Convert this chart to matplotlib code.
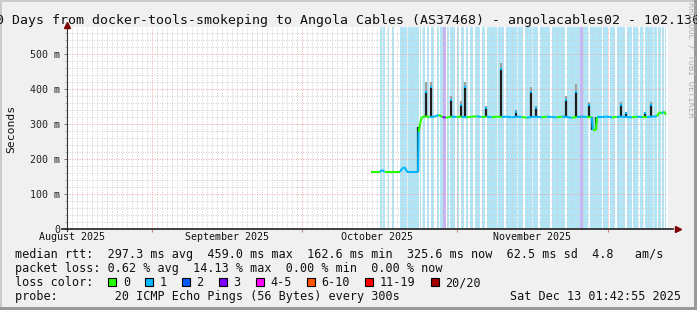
import datetime as dt
import matplotlib
matplotlib.use("Agg")
import matplotlib.pyplot as plt
import matplotlib.dates as mdates
import matplotlib.transforms as mtransforms
from matplotlib.collections import LineCollection
from matplotlib.patches import Rectangle
from matplotlib.ticker import FixedLocator, MultipleLocator

# ---- chart data (time as days since the left edge of the graph) ----
start = dt.datetime(2025, 8, 15, 1, 42, 55)
span_days = 120

title = "120 Days from docker-tools-smokeping to Angola Cables (AS37468) - angolacables02 - 102.130"

month_labels = ["August 2025", "September 2025", "October 2025", "November 2025"]
month_mid = [dt.datetime(2025, 8, 16), dt.datetime(2025, 9, 16),
             dt.datetime(2025, 10, 16), dt.datetime(2025, 11, 16)]

y_ticks = [0, 0.1, 0.2, 0.3, 0.4, 0.5]
y_ticklabels = ["0", "100 m", "200 m", "300 m", "400 m", "500 m"]

# median rtt (seconds) and loss count for the segment that starts at each point
med_day = [60.6, 62.5, 62.9, 63.4, 66.5, 66.9, 67.4, 67.9, 70.1, 70.2, 70.8,
           71.6, 72.4, 73.4, 74.2, 75.0, 75.6, 76.8, 77.8, 78.8, 79.8, 80.8,
           81.8, 82.8, 83.8, 84.8, 85.8, 86.8, 87.8, 88.8, 89.8, 90.8, 91.8,
           92.8, 93.8, 94.8, 95.8, 96.8, 97.8, 98.8, 99.8, 100.8, 101.8, 102.8,
           103.8, 104.8, 105.0, 105.6, 105.8, 106.8, 107.8, 108.8, 109.8, 110.8,
           111.8, 112.8, 113.8, 114.8, 115.8, 116.8, 117.8, 118.3, 118.8, 119.2,
           119.6]
med_val = [0.163, 0.163, 0.168, 0.163, 0.163, 0.172, 0.176, 0.163, 0.163, 0.278, 0.319,
           0.322, 0.320, 0.321, 0.326, 0.320, 0.318, 0.321, 0.320, 0.321, 0.319, 0.321,
           0.322, 0.320, 0.321, 0.319, 0.321, 0.320, 0.321, 0.319, 0.321, 0.320, 0.318,
           0.320, 0.321, 0.319, 0.321, 0.320, 0.319, 0.321, 0.320, 0.318, 0.320, 0.321,
           0.320, 0.319, 0.282, 0.282, 0.320, 0.320, 0.321, 0.319, 0.320, 0.321,
           0.320, 0.319, 0.321, 0.320, 0.320, 0.321, 0.322, 0.334, 0.330, 0.336,
           0.326]
med_loss = [0, 1, 1, 0, 1, 1, 1, 1, 1, 0, 0,
            0, 1, 1, 0, 3, 0, 1, 0, 1, 0, 0,
            1, 0, 1, 0, 0, 1, 1, 1, 1, 0, 1,
            1, 1, 0, 1, 1, 0, 1, 1, 0, 1, 1,
            0, 1, 0, 0, 1, 1, 1, 0, 1, 1,
            1, 0, 1, 0, 1, 1, 0, 0, 1, 0,
            0]

# dark smoke columns: day, low, high (seconds)
smoke_day = [70.15, 71.7, 72.6, 76.7, 78.6, 79.5, 83.7, 86.7, 89.7, 92.7, 93.6,
             99.6, 101.6, 104.2, 104.9, 105.7, 110.6, 111.6, 115.4, 116.6]
smoke_lo = [0.163, 0.320, 0.320, 0.320, 0.320, 0.320, 0.320, 0.320, 0.320, 0.320, 0.320,
            0.320, 0.320, 0.320, 0.282, 0.282, 0.320, 0.320, 0.320, 0.320]
smoke_hi = [0.290, 0.392, 0.407, 0.368, 0.354, 0.407, 0.345, 0.459, 0.335, 0.392, 0.345,
            0.368, 0.392, 0.354, 0.320, 0.320, 0.354, 0.330, 0.330, 0.354]
# light smoke tips above the columns
tip_hi = [0.290, 0.421, 0.421, 0.380, 0.365, 0.420, 0.352, 0.475, 0.340, 0.405, 0.352,
          0.380, 0.415, 0.362, 0.320, 0.320, 0.362, 0.335, 0.335, 0.362]

# light background bands (days)
band_start = [62.50, 63.16, 64.16, 64.84, 66.49, 68.03, 70.49, 71.03, 71.83, 72.62,
              73.82, 74.48, 75.82, 76.48, 77.82, 78.61, 79.67, 80.47, 81.47, 82.81,
              83.93, 86.12, 87.66, 90.12, 91.45, 93.11, 94.45, 96.79, 99.78, 103.09,
              104.43, 107.09, 108.43, 109.76, 111.76, 113.08, 114.42, 115.42, 117.21,
              118.07, 118.75, 119.41]
band_end = [62.90, 63.56, 64.36, 65.30, 67.83, 70.23, 70.75, 71.55, 72.34, 73.28,
            74.34, 75.14, 76.28, 77.48, 78.33, 79.27, 80.13, 81.13, 82.47, 83.47,
            85.80, 87.26, 89.80, 91.11, 92.79, 94.11, 96.45, 99.44, 102.44, 104.09,
            106.77, 108.09, 109.42, 111.42, 112.76, 114.08, 115.08, 117.07, 117.75,
            118.61, 119.21, 119.55]
purple_start = [75.14, 102.44]
purple_end = [75.68, 102.97]

loss_labels = ["0", "1", "2", "3", "4-5", "6-10", "11-19", "20/20"]
loss_colors = ["#26ff00", "#00b8ff", "#0059ff", "#7e00ff", "#ff00ff",
               "#ff5500", "#ff0000", "#a10000"]

legend_lines = [
    "median rtt:  297.3 ms avg  459.0 ms max  162.6 ms min  325.6 ms now  62.5 ms sd  4.8   am/s",
    "packet loss: 0.62 % avg  14.13 % max  0.00 % min  0.00 % now",
    "loss color:",
    "probe:        20 ICMP Echo Pings (56 Bytes) every 300s",
]
stamp = "Sat Dec 13 01:42:55 2025"

# ---- drawing ----
W, H = 697, 310
MONO = "DejaVu Sans Mono"
BACK = "#f0f0f0"

fig = plt.figure(figsize=(W / 100, H / 100), dpi=100, facecolor=BACK)


def fx(px):
    return px / W


def fy(py):
    return 1 - py / H


# 3d frame
fig.add_artist(Rectangle((0, fy(2)), 1, 2 / H, transform=fig.transFigure, color="#cbcbcb", lw=0))
fig.add_artist(Rectangle((0, 0), 2 / W, 1, transform=fig.transFigure, color="#cbcbcb", lw=0))
fig.add_artist(Rectangle((0, 0), 1, 3 / H, transform=fig.transFigure, color="#999999", lw=0))
fig.add_artist(Rectangle((fx(W - 3), 0), 3 / W, 1, transform=fig.transFigure, color="#999999", lw=0))

x0, x1, ytop, ybot = 67, 668, 27, 228.6
ax = fig.add_axes([fx(x0), fy(ybot), fx(x1 - x0), (ybot - ytop) / H])
ax.set_facecolor("white")

t0 = mdates.date2num(start)
ax.set_xlim(t0, t0 + span_days)
ax.set_ylim(0, 0.578)

for s in ax.spines.values():
    s.set_visible(False)

# grid
ax.xaxis.set_major_locator(mdates.MonthLocator())
ax.xaxis.set_minor_locator(mdates.DayLocator())
ax.yaxis.set_major_locator(FixedLocator(y_ticks))
ax.yaxis.set_minor_locator(MultipleLocator(0.02))
ax.set_axisbelow(True)
ax.grid(True, which="minor", color="#cfcfcf", lw=0.7, ls=(0, (1, 1.5)))
ax.grid(True, which="major", color="#f0a0a0", lw=0.7, ls=(0, (1, 1.5)))
ax.set_xticklabels([])
ax.tick_params(axis="x", which="major", length=2, color="#d08080")
ax.tick_params(axis="x", which="minor", length=0)
ax.set_yticks(y_ticks)
ax.set_yticklabels(y_ticklabels, fontfamily=MONO, fontsize=7.2, color="#222222")
ax.tick_params(axis="y", which="major", length=2.5, width=0.7, color="#777777", pad=2.5)
ax.tick_params(axis="y", which="minor", length=1.5, width=0.7, color="#aaaaaa")

# background bands
for a, b in zip(band_start, band_end):
    ax.axvspan(t0 + a, t0 + b, color="#b0e6f8", lw=0, zorder=0.1, antialiased=False)
for a, b in zip(purple_start, purple_end):
    ax.axvspan(t0 + a, t0 + b, color="#c8b4f4", lw=0, zorder=0.1, antialiased=False)

# smoke
for d, lo, hi, th in zip(smoke_day, smoke_lo, smoke_hi, tip_hi):
    ax.vlines(t0 + d, hi, th, color="#a0a0a0", lw=1.6, zorder=2)
    ax.vlines(t0 + d, lo, hi, color="#1e1e1e", lw=1.6, zorder=2.2)

# median line coloured by loss
segs, cols = [], []
for i in range(len(med_day) - 1):
    segs.append([(t0 + med_day[i], med_val[i]), (t0 + med_day[i + 1], med_val[i + 1])])
    cols.append(loss_colors[med_loss[i]])
ax.add_collection(LineCollection(segs, colors=cols, linewidths=1.5, zorder=3, capstyle="butt"))
# median at spike tops
top_days = [d for d, lo in zip(smoke_day[1:], smoke_lo[1:]) if lo > 0.3]
top_vals = [h for h, lo in zip(smoke_hi[1:], smoke_lo[1:]) if lo > 0.3]
ax.scatter([t0 + d for d in top_days], top_vals, s=3, marker="s", color="#00b8ff", lw=0, zorder=3.5)

# axes with arrows
ax.plot([0, 0], [-0.012, 1.0], transform=ax.transAxes, color="#333333", lw=0.8, clip_on=False, zorder=5)
ax.plot([0], [1.01], transform=ax.transAxes, marker="^", ms=4.5, color="#7f0000", clip_on=False, zorder=6)
ax.plot([-0.008, 1.008], [0, 0], transform=ax.transAxes, color="#1f1f1f", lw=1.2, clip_on=False, zorder=5)
ax.plot([1.016], [0], transform=ax.transAxes, marker=">", ms=4.5, color="#7f0000", clip_on=False, zorder=6)

# month labels
month_tr = mtransforms.blended_transform_factory(ax.transData, fig.transFigure)
for lab, m in zip(month_labels, month_mid):
    ax.text(mdates.date2num(m), fy(240.5), lab, transform=month_tr,
            ha="center", va="baseline", fontfamily=MONO, fontsize=7.2, color="#111111")

# title, y label, watermark
fig.text(fx(-20), fy(24), title, ha="left", va="baseline", fontfamily=MONO, fontsize=9.56, color="#111111")
fig.text(fx(11), fy(128.5), "Seconds", rotation=90, ha="center", va="center",
         fontfamily=MONO, fontsize=8.2, color="#111111")
fig.text(fx(691), fy(60), "RRDTOOL / TOBI OETIKER", rotation=270, ha="center", va="center",
         fontfamily=MONO, fontsize=6.2, color="#b0b0b0")

# legend
CW = 7.1
for line, base in zip(legend_lines, [258, 272, 286, 300]):
    fig.text(fx(15.3), fy(base), line, ha="left", va="baseline", fontfamily=MONO, fontsize=8.5, color="#111111")
fig.text(fx(680.5), fy(300), stamp, ha="right", va="baseline", fontfamily=MONO, fontsize=8.5, color="#111111")

bx = 108.3
for lab, col in zip(loss_labels, loss_colors):
    fig.add_artist(Rectangle((fx(bx), fy(286)), 8 / W, 8 / H, transform=fig.transFigure,
                             facecolor=col, edgecolor="black", lw=0.8))
    fig.text(fx(bx + 14.5), fy(286), lab, ha="left", va="baseline", fontfamily=MONO, fontsize=8.5, color="#111111")
    bx += 29.8 + len(lab) * CW

fig.savefig("out.png", dpi=100, facecolor=BACK)
